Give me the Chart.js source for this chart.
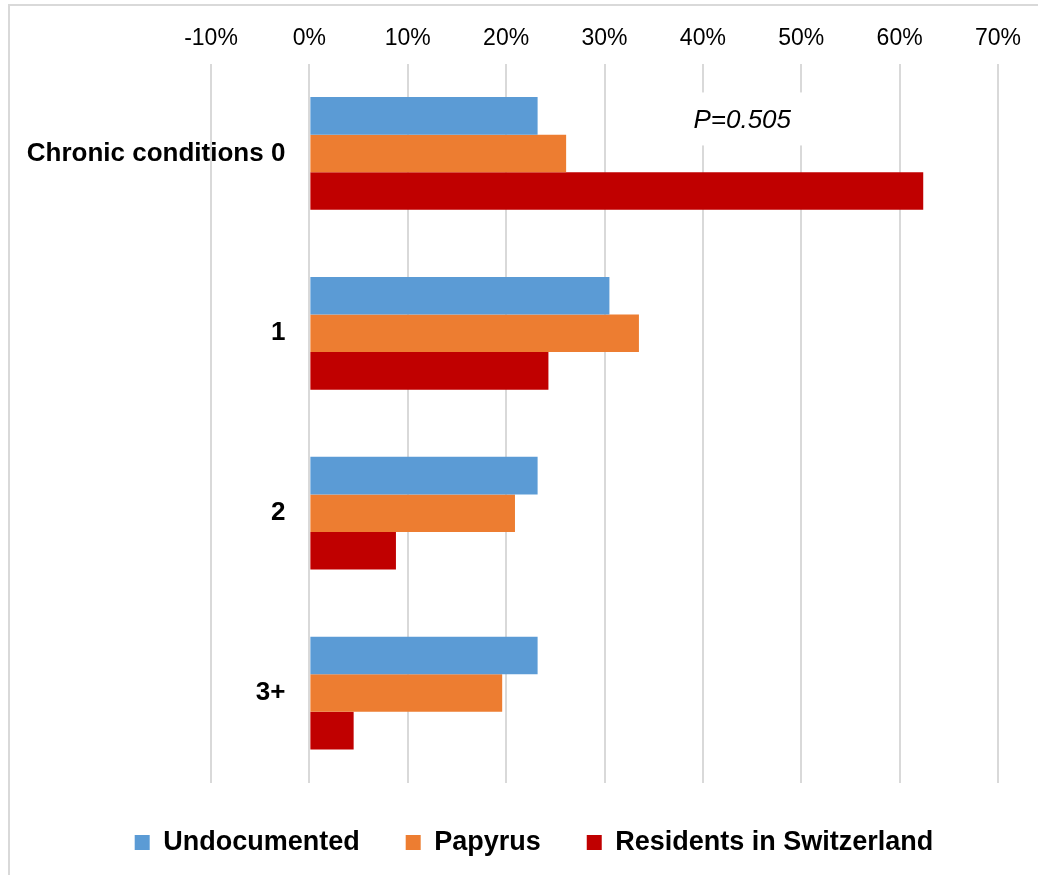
<!DOCTYPE html>
<html>
<head>
<meta charset="utf-8">
<script src="https://cdn.jsdelivr.net/npm/chart.js@4.4.1/dist/chart.umd.min.js"></script>
<style>
  html, body { margin: 0; padding: 0; background: #fff; }
  #wrap { position: relative; width: 1038px; height: 875px; }
</style>
</head>
<body>
<div id="wrap"><canvas id="chart" width="1038" height="875"></canvas></div>
<script>
// chart values (percent)
const categories = ['Chronic conditions 0', '1', '2', '3+'];
const undocumented = [23.2, 30.5, 23.2, 23.2];
const papyrus = [26.1, 33.5, 20.9, 19.6];
const residents = [62.4, 24.3, 8.8, 4.5];
const seriesNames = ['Undocumented', 'Papyrus', 'Residents in Switzerland'];
const tickMin = -10, tickMax = 70, tickStep = 10;
const pValueText = 'P=0.505';
const pValueAt = 44; // x value where the note sits, beside the first group

const FONT = "'Liberation Sans', Arial, Helvetica, sans-serif";
Chart.defaults.font.family = FONT;
Chart.defaults.color = '#000';

// outer frame + category labels + p value note
const extras = {
    id: 'extras',
    beforeDraw(chart) {
        const ctx = chart.ctx;
        ctx.save();
        ctx.fillStyle = '#fff';
        ctx.fillRect(0, 0, chart.width, chart.height);
        ctx.strokeStyle = '#d9d9d9';
        ctx.lineWidth = 2;
        ctx.beginPath();
        ctx.moveTo(9, chart.height);
        ctx.lineTo(9, 5);
        ctx.lineTo(chart.width, 5);
        ctx.stroke();
        ctx.restore();
    },
    beforeDatasetsDraw(chart) {
        const ctx = chart.ctx;
        const x = chart.scales.x, y = chart.scales.y;
        const cx = x.getPixelForValue(pValueAt);
        const cy = y.getPixelForValue(0) - 33;
        ctx.save();
        ctx.fillStyle = '#fff';
        ctx.fillRect(cx - 100, cy - 28, 220, 53);
        ctx.restore();
    },
    afterDatasetsDraw(chart) {
        const ctx = chart.ctx;
        const x = chart.scales.x, y = chart.scales.y;
        ctx.save();
        ctx.fillStyle = '#000';
        ctx.font = 'bold 26px ' + FONT;
        ctx.textAlign = 'right';
        ctx.textBaseline = 'middle';
        categories.forEach((c, i) => {
            ctx.fillText(c, x.getPixelForValue(0) - 24, y.getPixelForValue(i));
        });
        ctx.font = 'italic 26px ' + FONT;
        ctx.textAlign = 'center';
        ctx.fillText(pValueText, x.getPixelForValue(pValueAt), y.getPixelForValue(0) - 33);
        ctx.restore();
    }
};

new Chart(document.getElementById('chart').getContext('2d'), {
    type: 'bar',
    data: {
        labels: categories,
        datasets: [
            { label: seriesNames[0], data: undocumented, backgroundColor: '#5B9BD5' },
            { label: seriesNames[1], data: papyrus, backgroundColor: '#ED7D31' },
            { label: seriesNames[2], data: residents, backgroundColor: '#C00000' }
        ]
    },
    options: {
        indexAxis: 'y',
        responsive: false,
        animation: false,
        layout: { padding: { left: 70, right: 40, top: 0, bottom: 9 } },
        datasets: { bar: { barPercentage: 1, categoryPercentage: 0.627 } },
        scales: {
            x: {
                position: 'top',
                min: tickMin,
                max: tickMax,
                afterFit: s => { s.height = 63.5; },
                ticks: {
                    stepSize: tickStep,
                    padding: 11,
                    font: { size: 23 },
                    color: '#000',
                    callback: v => v + '%'
                },
                grid: { color: '#d9d9d9', lineWidth: 2, drawTicks: false },
                border: { display: false }
            },
            y: {
                afterFit: s => { s.width = 141; },
                ticks: { display: false },
                grid: { display: false },
                border: { display: false }
            }
        },
        plugins: {
            legend: {
                position: 'bottom',
                labels: {
                    boxWidth: 15,
                    boxHeight: 15,
                    padding: 46,
                    color: '#000',
                    font: { size: 27, weight: 'bold' }
                }
            },
            tooltip: { enabled: false }
        }
    },
    plugins: [extras]
});
</script>
</body>
</html>
